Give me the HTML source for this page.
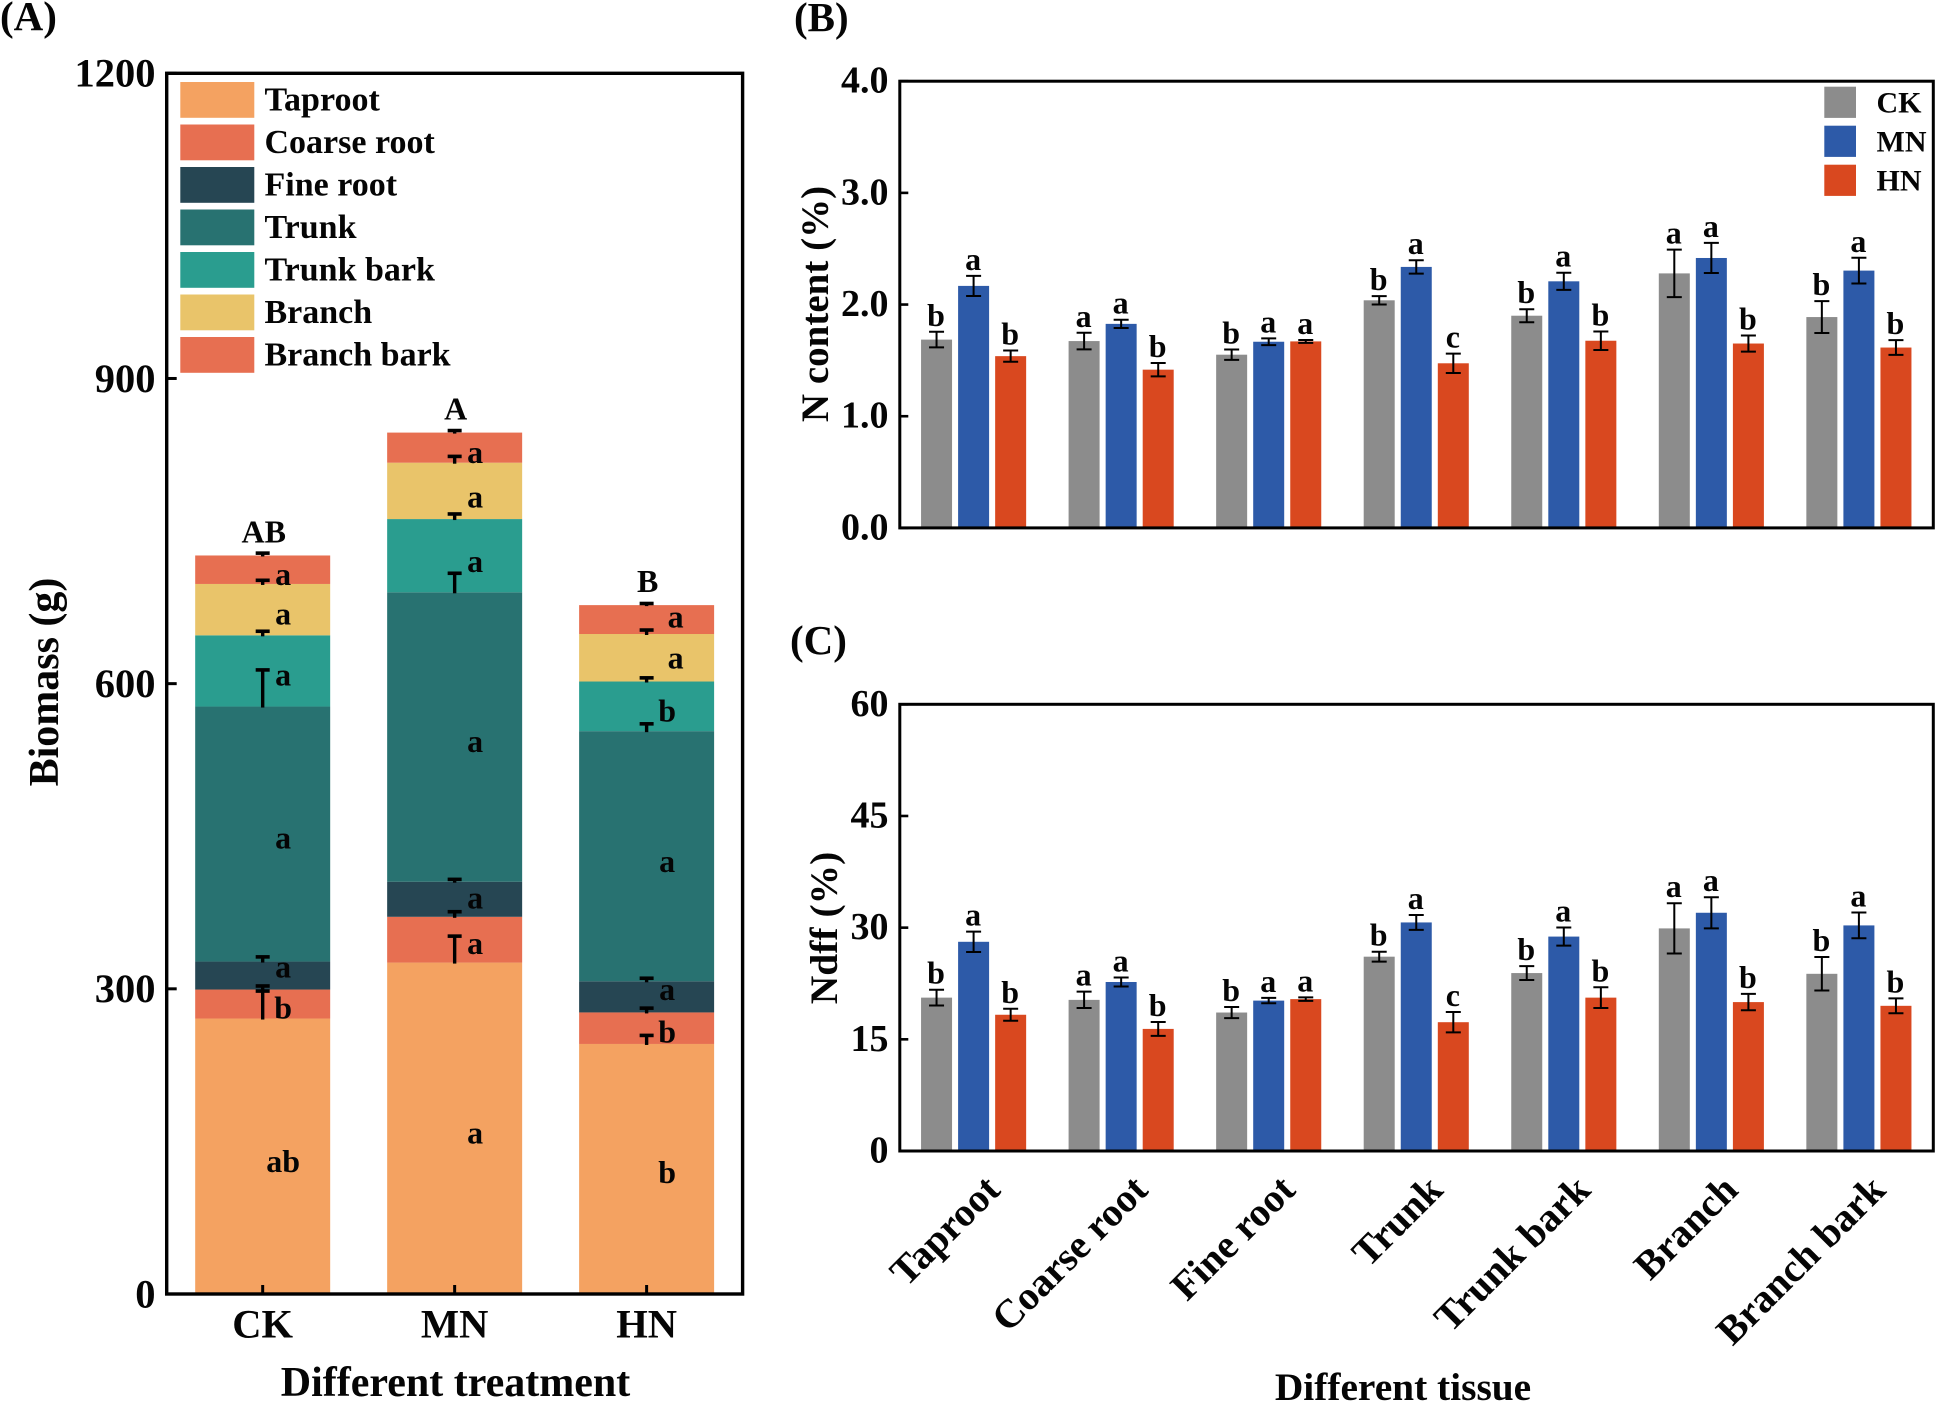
<!DOCTYPE html>
<html lang="en">
<head>
<meta charset="utf-8">
<title>Biomass, N content and Ndff</title>
<style>
html,body{margin:0;padding:0;background:#fff;width:1937px;height:1409px;overflow:hidden}
svg{display:block}
text{font-family:"Liberation Serif","DejaVu Serif",serif;font-weight:bold;fill:#050505}
</style>
</head>
<body>
<svg id="fig" xmlns="http://www.w3.org/2000/svg" width="1937" height="1409" viewBox="0 0 1937 1409">
  <rect x="0" y="0" width="1937" height="1409" fill="#fff"/>
  <text x="0" y="30" font-size="41">(A)</text>
  <text x="794" y="31" font-size="41">(B)</text>
  <text x="790" y="654" font-size="41">(C)</text>
  <g id="panelA"></g>
  <g id="panelB"></g>
  <g id="panelC"></g>
  <text transform="translate(58 682) rotate(-90)" text-anchor="middle" font-size="42">Biomass (g)</text>
  <text x="455.5" y="1396" text-anchor="middle" font-size="42">Different treatment</text>
  <text transform="translate(828 304) rotate(-90)" text-anchor="middle" font-size="39">N content (%)</text>
  <text transform="translate(837 928) rotate(-90)" text-anchor="middle" font-size="39.5">Ndff (%)</text>
  <text x="1403" y="1400" text-anchor="middle" font-size="39.4">Different tissue</text>
</svg>
<script>
/* ---------- Panel A data ---------- */
const treatments = ['CK', 'MN', 'HN'];
const tissues = ['Taproot', 'Coarse root', 'Fine root', 'Trunk', 'Trunk bark', 'Branch', 'Branch bark'];
const tissueColors = ['#F4A261', '#E76F51', '#264653', '#287271', '#2A9D8F', '#E9C46A', '#E76F51'];
const biomassCK = [270.8, 28.5, 27.5, 250.7, 70, 50.5, 28];
const biomassMN = [325.8, 45, 34.5, 284.5, 72, 55.4, 29.6];
const biomassHN = [245.8, 31, 30.6, 245.9, 48.8, 46.7, 28.4];
const biomassErrCK = [27, 3.5, 4.6, 36, 4, 3.6, 2.3];
const biomassErrMN = [26, 5, 2.3, 18.7, 5, 6.2, 2];
const biomassErrHN = [8.4, 4.2, 3, 7.2, 3.6, 3.9, 1.6];
const biomassLettersCK = ['ab', 'b', 'a', 'a', 'a', 'a', 'a'];
const biomassLettersMN = ['a', 'a', 'a', 'a', 'a', 'a', 'a'];
const biomassLettersHN = ['b', 'b', 'a', 'a', 'b', 'a', 'a'];
const letterLevelsCK = [120, 271, 311, 438, 598, 658, 697];
const letterLevelsMN = [148, 334, 379, 533, 710, 773, 817];
const letterLevelsHN = [109, 247, 289, 415, 563, 615, 655];
const totalLetters = ['AB', 'A', 'B'];
const biomassTicks = [0, 300, 600, 900, 1200];

/* ---------- Panels B and C data ---------- */
const treatmentColors = ['#8C8C8C', '#2D5AA8', '#D9481F'];
const nTicks = ['0.0', '1.0', '2.0', '3.0', '4.0'];
const nCK = [1.686, 1.673, 1.551, 2.038, 1.90, 2.279, 1.888];
const nMN = [2.167, 1.827, 1.667, 2.337, 2.208, 2.417, 2.304];
const nHN = [1.538, 1.417, 1.67, 1.474, 1.676, 1.651, 1.615];
const nErrCK = [0.07, 0.074, 0.046, 0.038, 0.058, 0.213, 0.143];
const nErrMN = [0.09, 0.037, 0.03, 0.06, 0.077, 0.135, 0.115];
const nErrHN = [0.05, 0.06, 0.013, 0.087, 0.083, 0.072, 0.066];
const ndffTicks = ['0', '15', '30', '45', '60'];
const ndffCK = [20.6, 20.3, 18.6, 26.1, 23.9, 29.9, 23.8];
const ndffMN = [28.1, 22.7, 20.2, 30.7, 28.8, 32, 30.3];
const ndffHN = [18.3, 16.4, 20.4, 17.3, 20.6, 20, 19.5];
const ndffErrCK = [1.06, 1.1, 0.75, 0.67, 0.93, 3.38, 2.25];
const ndffErrMN = [1.37, 0.6, 0.36, 1.0, 1.22, 2.09, 1.73];
const ndffErrHN = [0.8, 0.93, 0.24, 1.37, 1.39, 1.1, 1.0];
const sigCK = ['b', 'a', 'b', 'b', 'b', 'a', 'b'];
const sigMN = ['a', 'a', 'a', 'a', 'a', 'a', 'a'];
const sigHN = ['b', 'b', 'a', 'c', 'b', 'b', 'b'];

const NS = 'http://www.w3.org/2000/svg';
function make(parent, tag, attrs, content) {
  const n = document.createElementNS(NS, tag);
  for (const k in attrs) n.setAttribute(k, attrs[k]);
  if (content !== undefined) n.textContent = content;
  parent.appendChild(n);
  return n;
}
function slug(s) { return s.toLowerCase().replace(/\s+/g, '-'); }

/* ---------- Panel A ---------- */
(function () {
  const g = document.getElementById('panelA');
  const left = 166.7, right = 742.6, top = 73.3, bottom = 1294, maxV = 1200;
  const y = v => bottom - v * (bottom - top) / maxV;
  const band = (right - left) / treatments.length;
  const x = i => left + band * (i + 0.5);
  const barW = 135;
  const series = [biomassCK, biomassMN, biomassHN];
  const errs = [biomassErrCK, biomassErrMN, biomassErrHN];
  const letters = [biomassLettersCK, biomassLettersMN, biomassLettersHN];
  const levels = [letterLevelsCK, letterLevelsMN, letterLevelsHN];

  treatments.forEach((t, i) => {
    let base = 0;
    series[i].forEach((v, j) => {
      const r = make(g, 'rect', { x: x(i) - barW / 2, y: y(base + v), width: barW, height: y(base) - y(base + v), fill: tissueColors[j] });
      
      
      base += v;
    });
  });
  treatments.forEach((t, i) => {
    let base = 0;
    series[i].forEach((v, j) => {
      base += v;
      const top2 = y(base + errs[i][j]);
      const stem = make(g, 'line', { x1: x(i), x2: x(i), y1: y(base) + 1, y2: top2, stroke: '#000', 'stroke-width': 3.4 });
      
      
      const cap = make(g, 'line', { x1: x(i) - 7, x2: x(i) + 7, y1: top2, y2: top2, stroke: '#000', 'stroke-width': 3.6 });
      
      
      const shift = (i === 2 && j >= 5) ? 29 : 20.5;
      const lab = make(g, 'text', { x: x(i) + shift, y: y(levels[i][j]), 'text-anchor': 'middle', 'font-size': 32 }, letters[i][j]);
      
      
    });
    const tot = make(g, 'text', { x: x(i) + 1, y: y(base) - 13, 'text-anchor': 'middle', 'font-size': 32 }, totalLetters[i]);
    
    
  });

  biomassTicks.forEach(v => {
    const tk = make(g, 'line', { x1: left, x2: left + 10, y1: y(v), y2: y(v), stroke: '#000', 'stroke-width': 3 });
    
    
    const lb = make(g, 'text', { x: 155.5, y: y(v) + 13.3, 'text-anchor': 'end', 'font-size': 40.5 }, String(v));
    
    
  });
  treatments.forEach((t, i) => {
    const tk = make(g, 'line', { x1: x(i), x2: x(i), y1: bottom, y2: bottom - 9, stroke: '#000', 'stroke-width': 3 });
    
    
    const lb = make(g, 'text', { x: x(i), y: 1337.5, 'text-anchor': 'middle', 'font-size': 40.5 }, t);
    
    
  });

  const frame = make(g, 'rect', { x: left, y: top, width: right - left, height: bottom - top, fill: 'none', stroke: '#000', 'stroke-width': 3.4 });
  
  

  tissues.forEach((t, j) => {
    const sw = make(g, 'rect', { x: 180.3, y: 82 + j * 42.5, width: 74, height: 35.8, fill: tissueColors[j] });
    
    
    const tx = make(g, 'text', { x: 264.5, y: 110.7 + j * 42.5, 'font-size': 34 }, t);
    
    
  });
})();

/* ---------- Panels B and C ---------- */
function groupedPanel(id, prefix, top, bottom, maxV, ticks, series, errors) {
  const g = document.getElementById(id);
  const left = 899.8, right = 1933.3;
  const y = v => bottom - v * (bottom - top) / maxV;
  const groupPitch = 147.55, barPitch = 37.05, barW = 31;
  const gx = i => 973.6 + groupPitch * i;
  const sigs = [sigCK, sigMN, sigHN];
  tissues.forEach((tissue, i) => {
    treatments.forEach((t, s) => {
      const cx = gx(i) + (s - 1) * barPitch;
      const v = series[s][i], e = errors[s][i];
      const r = make(g, 'rect', { x: cx - barW / 2, y: y(v), width: barW, height: bottom - y(v), fill: treatmentColors[s] });
      
      
      const eg = make(g, 'path', {
        d: 'M' + (cx - 7.5) + ' ' + y(v + e) + 'H' + (cx + 7.5) + 'M' + cx + ' ' + y(v + e) + 'V' + y(v - e) + 'M' + (cx - 7.5) + ' ' + y(v - e) + 'H' + (cx + 7.5),
        fill: 'none', stroke: '#000', 'stroke-width': 2
      });
      
      
      const lb = make(g, 'text', { x: cx - 0.5, y: y(v + e) - 6, 'text-anchor': 'middle', 'font-size': 32 }, sigs[s][i]);
      
      
    });
  });
  ticks.forEach(label => {
    const v = parseFloat(label);
    const tk = make(g, 'line', { x1: left, x2: left + 8.5, y1: y(v), y2: y(v), stroke: '#000', 'stroke-width': 2.6 });
    
    
    const lb = make(g, 'text', { x: 888.5, y: y(v) + 11.5, 'text-anchor': 'end', 'font-size': 38 }, label);
    
    
  });
  const frame = make(g, 'rect', { x: left, y: top, width: right - left, height: bottom - top, fill: 'none', stroke: '#000', 'stroke-width': 3 });
  
  
  return { g, gx };
}
const pB = groupedPanel('panelB', 'panel-b', 81.2, 527.9, 4, nTicks, [nCK, nMN, nHN], [nErrCK, nErrMN, nErrHN]);
const pC = groupedPanel('panelC', 'panel-c', 704.3, 1151, 60, ndffTicks, [ndffCK, ndffMN, ndffHN], [ndffErrCK, ndffErrMN, ndffErrHN]);

treatments.forEach((t, s) => {
  const sw = make(pB.g, 'rect', { x: 1824.3, y: 86.7 + s * 39, width: 31.7, height: 31.2, fill: treatmentColors[s] });
  
  
  const tx = make(pB.g, 'text', { x: 1876.5, y: 112.7 + s * 39, 'font-size': 30 }, t);
  
  
});
tissues.forEach((tissue, i) => {
  const ax = pC.gx(i) + 28.5;
  const lb = make(pC.g, 'text', { x: ax, y: 1192, 'text-anchor': 'end', 'font-size': 40, transform: 'rotate(-45 ' + ax + ' 1192)' }, tissue);
  
  
});
</script>
</body>
</html>
